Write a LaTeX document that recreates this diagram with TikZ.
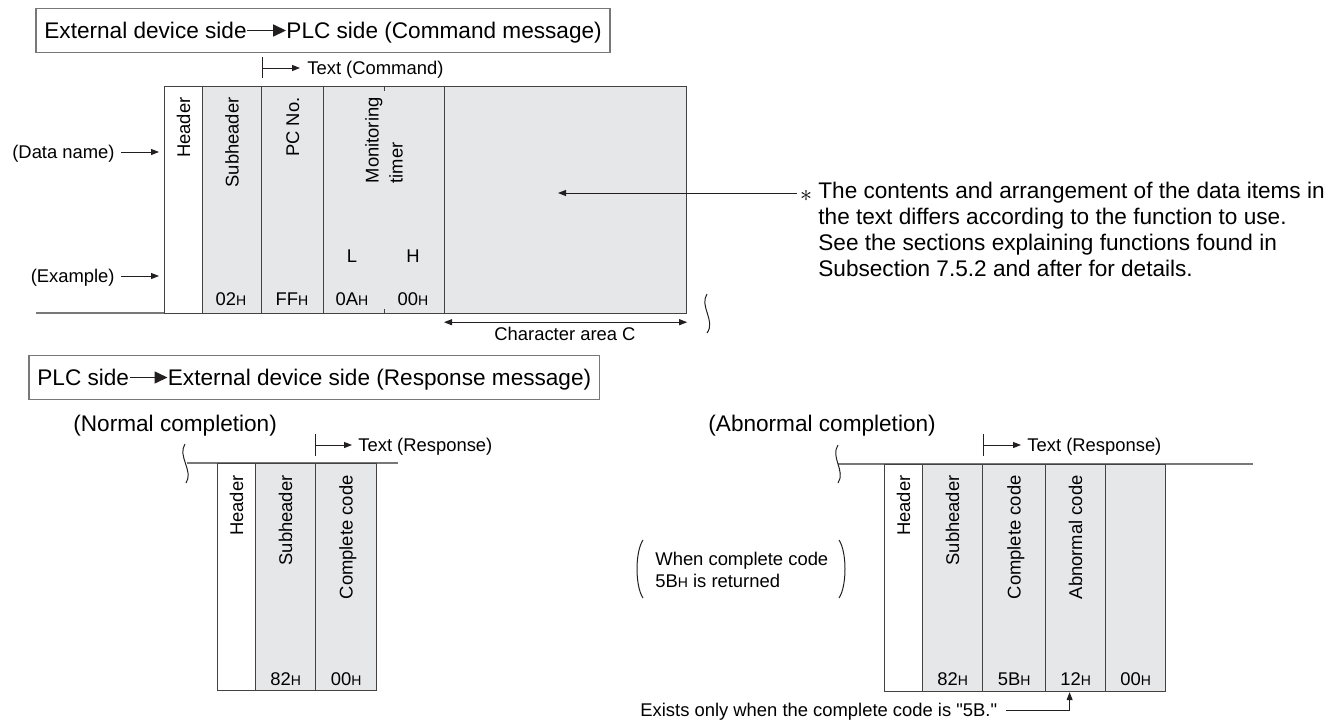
\documentclass[tikz,border=0pt]{standalone}
\usepackage{fontspec}
\setmainfont{Liberation Sans}
\usetikzlibrary{arrows.meta,positioning,fit,calc}

\definecolor{cellgray}{RGB}{230,231,232}
\definecolor{edgegray}{RGB}{120,120,120}
\definecolor{ink}{RGB}{35,31,32}
\newcommand{\hexv}[1]{#1{\fontsize{7}{8}\selectfont H}}
\newcommand{\straightq}{\XeTeXglyph\XeTeXcharglyph"0022\relax}

\begin{document}
\begin{tikzpicture}[
    x=0.5pt, y=-0.5pt,
    >={Triangle[length=4pt,width=3pt]},
    big/.style   = {font=\fontsize{11.3}{13}\selectfont, inner sep=0pt,
                    text height=8pt, text depth=0pt},
    sm/.style    = {font=\fontsize{9.2}{11}\selectfont, inner sep=0pt,
                    text height=6.6pt, text depth=0pt},
    multi/.style = {inner sep=0pt, align=left},
    rot/.style   = {sm, rotate=90, anchor=east},
    cell/.style  = {draw=ink!85, line width=0.6pt, fill=cellgray,
                    anchor=north west, inner sep=0pt, minimum height=113.5pt},
    blank/.style = {cell, fill=white},
    titlebox/.style = {draw=edgegray, line width=0.8pt,
                       inner xsep=4pt, inner ysep=6.75pt},
    flow/.style  = {draw=ink, line width=0.8pt,
                    -{Triangle[length=6.5pt,width=6pt]}},
    arr/.style   = {draw=ink, line width=0.5pt, ->},
    rule/.style  = {draw=edgegray, line width=0.8pt},
    wave/.style  = {draw=ink, line width=0.5pt}
  ]
  \useasboundingbox (0,0) rectangle (1344,723);

  %–––– command message ––––
  \node[big, anchor=west] (cmdfrom) at (44,30.5) {External device side};
  \node[big, right=19.5pt of cmdfrom] (cmdto) {PLC side (Command message)};
  \node[titlebox, fit=(cmdfrom)(cmdto)] (cmdbox) {};
  \draw[flow] (cmdfrom) -- (cmdto);

  % frame of the command
  \draw[rule] (36,313) -- (686,313);
  \draw[wave] (707,294) .. controls (699,306) and (716,321) .. (707,333);
  \node[blank, minimum width=19pt]  (hdrA) at (164,86) {};
  \node[cell, minimum width=29.5pt] (subA) at (202,86) {};
  \node[cell, minimum width=31pt]   (pcA)  at (261,86) {};
  \node[cell, minimum width=60.5pt] (mtA)  at (323,86) {};
  \node[cell, minimum width=121pt]  (txtA) at (444,86) {};
  \draw[draw=ink!85, line width=0.6pt] (mtA.north) -- ++(0,5) (mtA.south) -- ++(0,-5);

  \foreach \c/\t in {hdrA/Header, subA/Subheader, pcA/PC No.}
    \node[rot] (lbl-\c) at ([yshift=-5.5pt]\c.north) {\t};
  \node[multi, rotate=90, anchor=east, font=\fontsize{9.2}{12}\selectfont]
    (lbl-mtA) at ([yshift=-5.5pt]mtA.north) {Monitoring\\timer};

  \node[sm] (lowL)  at (352,256) {L};
  \node[sm] (highH) at (413,256) {H};
  \foreach \p/\v in {231/02, 292/FF, 352/0A, 413/00}
    \node[sm] (val-\v) at (\p,299) {\hexv{\v}};

  % text (command)
  \coordinate (cmdtick) at (262,68);
  \draw[wave] ([yshift=5.5pt]cmdtick) -- ([yshift=-5pt]cmdtick);
  \node[sm, anchor=west] (cmdtext) at (307,68) {Text (Command)};
  \draw[arr, shorten >=3.5pt] (cmdtick) -- (cmdtext.west);

  % side labels
  \node[sm, anchor=east] (dname) at (115,152) {(Data name)};
  \node[sm, anchor=east] (dexam) at (115,276) {(Example)};
  \draw[arr, shorten >=2.5pt] ([xshift=3pt]dname.east) -- (dname.east -| hdrA.west);
  \draw[arr, shorten >=2.5pt] ([xshift=3pt]dexam.east) -- (dexam.east -| hdrA.west);

  % note on the text
  \node[font=\fontsize{12}{12}\selectfont, inner sep=0pt] (star) at (806,196) {$\ast$};
  \node[multi, anchor=north west, font=\fontsize{11.3}{13}\selectfont] (notetext) at (818,182)
    {The contents and arrangement of the data items in\\
     the text differs according to the function to use.\\
     See the sections explaining functions found in\\
     Subsection 7.5.2 and after for details.};
  \coordinate (notetip) at (558,193);
  \draw[arr] ([xshift=-1.5pt]star.west |- notetip) -- (notetip);

  % character area
  \draw[arr, <->] ([yshift=-4pt]txtA.south west) -- ([yshift=-4pt]txtA.south east);
  \node[sm] (charC) at (565,334) {Character area C};

  %–––– response message ––––
  \node[big, anchor=west] (rspfrom) at (37,377.5) {PLC side};
  \node[big, right=19pt of rspfrom] (rspto) {External device side (Response message)};
  \node[titlebox, fit=(rspfrom)(rspto)] (rspbox) {};
  \draw[flow] (rspfrom) -- (rspto);

  % normal completion
  \node[big, anchor=west] (normal) at (73,423) {(Normal completion)};
  \draw[rule] (187,463) -- (398,463);
  \draw[wave] (185,444) .. controls (177,456) and (194,471) .. (186,483);
  \node[blank, minimum width=19pt]  (hdrN) at (217,463) {};
  \node[cell, minimum width=30pt]   (subN) at (255,463) {};
  \node[cell, minimum width=30.5pt] (ccN)  at (315,463) {};
  \foreach \c/\t in {hdrN/Header, subN/Subheader, ccN/Complete code}
    \node[rot] (lbl-\c) at ([yshift=-6pt]\c.north) {\t};
  \foreach \c/\v in {subN/82, ccN/00}
    \node[sm] (val-\c) at ([yshift=6pt]\c.south) {\hexv{\v}};

  \coordinate (nrmtick) at (315,445);
  \draw[wave] ([yshift=5.5pt]nrmtick) -- ([yshift=-5.5pt]nrmtick);
  \node[sm, anchor=west] (nrmtext) at (358,445) {Text (Response)};
  \draw[arr, shorten >=3pt] (nrmtick) -- (nrmtext.west);

  % abnormal completion
  \node[big, anchor=west] (abnormal) at (708,423) {(Abnormal completion)};
  \draw[rule] (838,464) -- (1253,464);
  \draw[wave] (838,445) .. controls (830,457) and (846,471) .. (838,483);
  \node[blank, minimum width=19pt]  (hdrE) at (884,464) {};
  \node[cell, minimum width=30pt]   (subE) at (922,464) {};
  \node[cell, minimum width=31.5pt] (ccE)  at (982,464) {};
  \node[cell, minimum width=30pt]   (abE)  at (1045,464) {};
  \node[cell, minimum width=30pt]   (endE) at (1105,464) {};
  \foreach \c/\t in {hdrE/Header, subE/Subheader, ccE/Complete code, abE/Abnormal code}
    \node[rot] (lbl-\c) at ([yshift=-5.5pt]\c.north) {\t};
  \foreach \c/\v in {subE/82, ccE/5B, abE/12, endE/00}
    \node[sm] (val-\c) at ([yshift=6.5pt]\c.south) {\hexv{\v}};

  \coordinate (abntick) at (983,445);
  \draw[wave] ([yshift=5.5pt]abntick) -- ([yshift=-5.5pt]abntick);
  \node[sm, anchor=west] (abntext) at (1027,445) {Text (Response)};
  \draw[arr, shorten >=3pt] (abntick) -- (abntext.west);

  % when 5BH is returned
  \node[multi, anchor=north west, font=\fontsize{9.2}{11}\selectfont] (when) at (655,552)
    {When complete code\\\hexv{5B} is returned};
  \draw[wave] (643,540) .. controls (635,552) and (635,586) .. (643,598);
  \draw[wave] (839,540) .. controls (847,552) and (847,586) .. (839,598);

  \node[sm, anchor=west] (exists) at (640,710)
    {Exists only when the complete code is \straightq 5B.\straightq};
  \draw[arr] ([xshift=4pt]exists.east) -| ([xshift=-3pt]abE.south);

\end{tikzpicture}
\end{document}
